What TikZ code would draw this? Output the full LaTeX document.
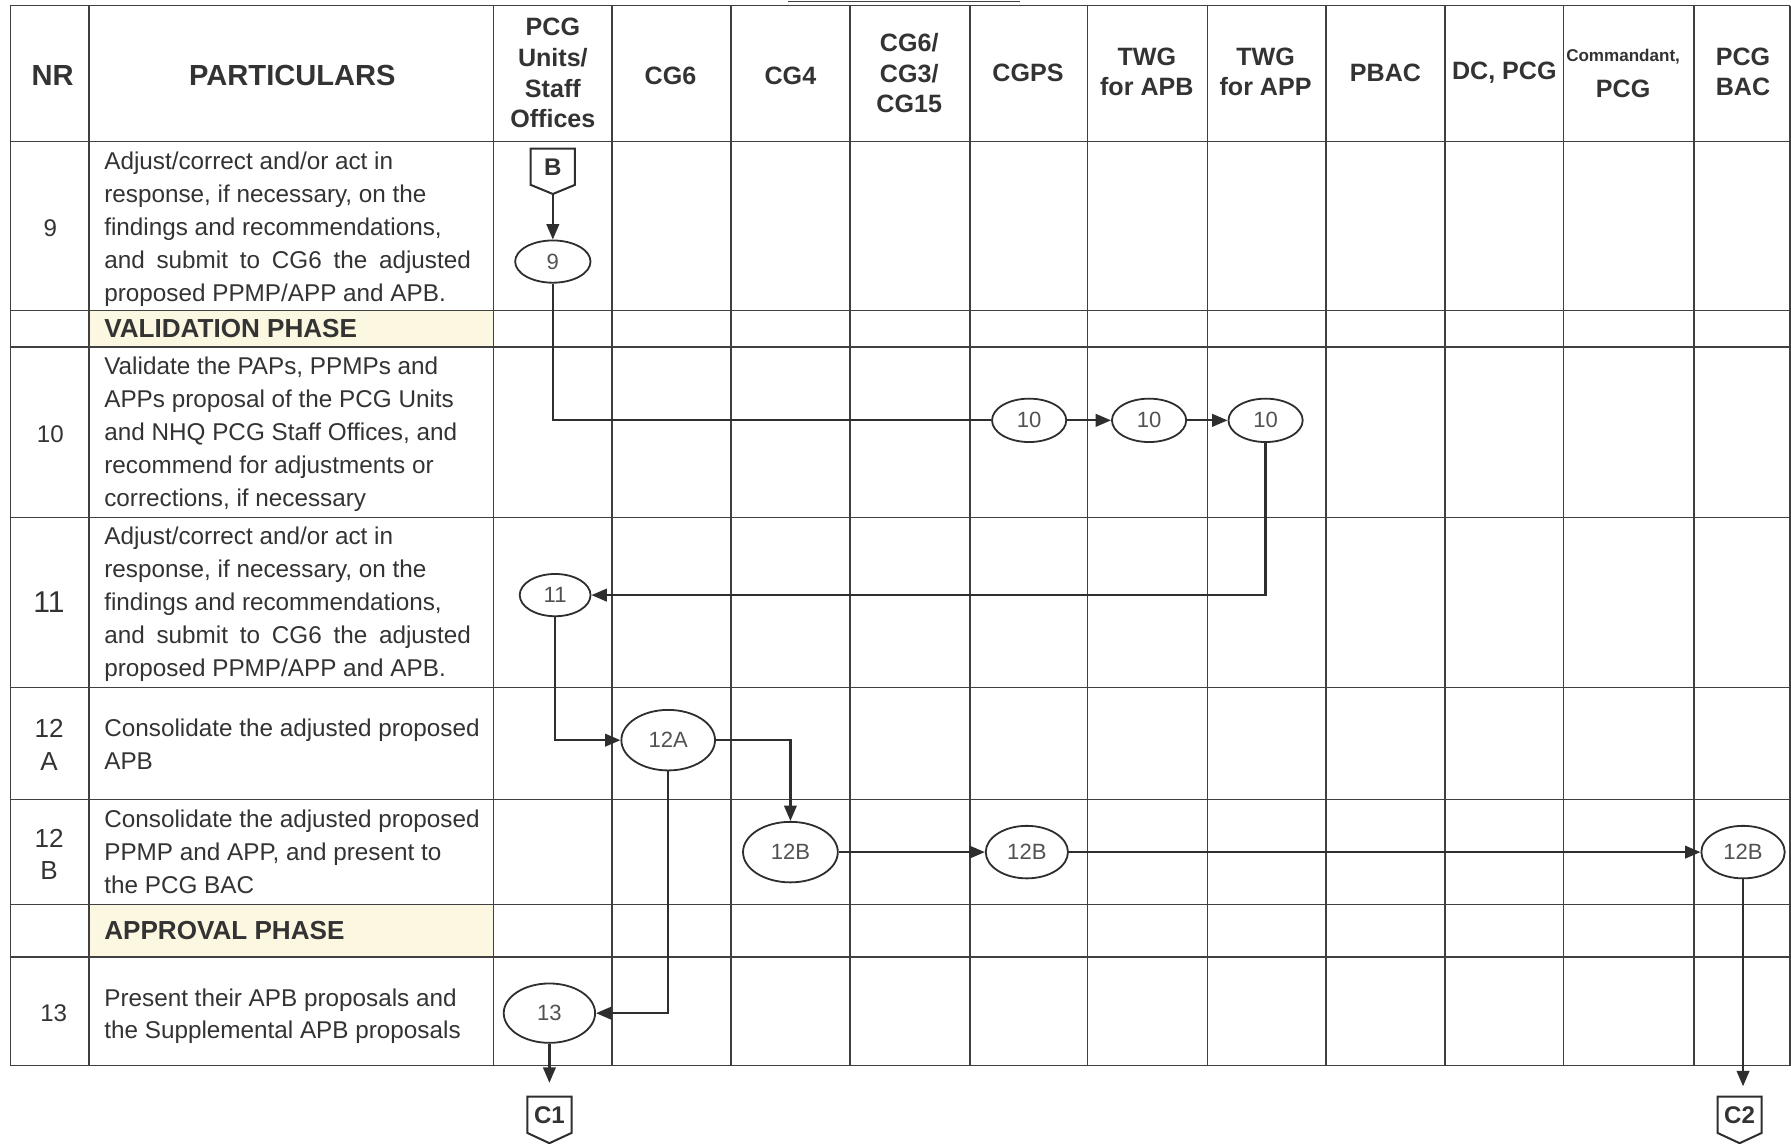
\documentclass[tikz,border=0pt]{standalone}
\usepackage{fontspec}
\setmainfont{Liberation Sans}
\usetikzlibrary{arrows.meta,calc,shapes.geometric}
\definecolor{gridc}{HTML}{404040}
\definecolor{linec}{HTML}{2E2E2E}
\definecolor{phasefill}{HTML}{FBF7E0}
\definecolor{txt}{HTML}{333333}
\begin{document}
\begin{tikzpicture}[x=0.02cm,y=-0.02cm,
  gridline/.style={draw=gridc,line width=0.75pt},
  flow/.style={draw=linec,line width=1.1pt},
  arr/.style={flow,-{Triangle[length=0.27cm,width=0.22cm]}},
  stepell/.style={ellipse,draw=linec,line width=0.9pt,inner sep=0pt,font=\fontsize{11}{13}\selectfont,text=txt!85},
  hdr/.style={font=\bfseries\fontsize{12.5}{15.3}\selectfont,align=center,text=txt,inner sep=0pt},
  hdrbig/.style={font=\bfseries\fontsize{14.5}{17}\selectfont,align=center,text=txt,inner sep=0pt},
  hdrsmall/.style={font=\bfseries\fontsize{8.5}{10}\selectfont,align=center,text=txt,inner sep=0pt},
  body/.style={font=\fontsize{12.1}{16.4}\selectfont,align=left,anchor=north west,inner sep=0pt,text=txt},
  nrtext/.style={font=\fontsize{12}{16.4}\selectfont,align=center,text=txt,inner sep=0pt},
  phase/.style={font=\bfseries\fontsize{13}{15}\selectfont,anchor=west,inner sep=0pt,text=txt},
  offp/.style={rectangle,draw=none,minimum width=0.76cm,minimum height=0.62cm,inner sep=0pt,font=\bfseries\fontsize{12}{14}\selectfont,text=txt},
  offline/.style={draw=linec,line width=1pt}
]
\useasboundingbox (0,0) rectangle (1568,1001);
% phase fills
\fill[phasefill] (78,272) rectangle (432,304);
\fill[phasefill] (78,792) rectangle (432,838);
% title underline (cut off)
\draw[draw=gridc,line width=0.6pt] (690,1) -- (893,1);
% grid
\foreach \xx in {9,78,432,536,640,744,849,952,1057,1161,1265,1369,1483,1567}
  \draw[gridline] (\xx,5) -- (\xx,933);
\foreach \yy in {5,124,272,304,453,602,700,792,838,933}
  \draw[gridline] (9,\yy) -- (1567,\yy);
% header
\node[hdrbig] (hNR) at (46,66) {NR};
\node[hdrbig] (hPart) at (256,66) {PARTICULARS};
\node[hdr] (hPCG) at (484,64) {PCG\\Units/\\Staff\\Offices};
\node[hdr] (hCG6) at (587,66) {CG6};
\node[hdr] (hCG4) at (692,66) {CG4};
\node[hdr] (hCG63) at (796,64) {CG6/\\CG3/\\CG15};
\node[hdr] (hCGPS) at (900,64) {CGPS};
\node[hdr] (hTWG1) at (1004,63) {TWG\\for APB};
\node[hdr] (hTWG2) at (1108,63) {TWG\\for APP};
\node[hdr] (hPBAC) at (1213,64) {PBAC};
\node[hdr] (hDC) at (1317,64) {DC, PCG};
\node[hdrsmall] (hCom1) at (1421,50) {Commandant,};
\node[hdr] (hCom2) at (1421,78) {PCG};
\node[hdr] (hBAC) at (1526,63) {PCG\\BAC};
% NR column
\node[nrtext] (r9) at (44,200) {9};
\node[nrtext] (r10) at (44,380) {10};
\node[nrtext,font=\fontsize{15}{17}\selectfont] (r11) at (43,527) {11};
\node[nrtext,font=\fontsize{13}{16.4}\selectfont] (r12a) at (43,652) {12\\A};
\node[nrtext,font=\fontsize{13}{16.4}\selectfont] (r12b) at (43,748) {12\\B};
\node[nrtext] (r13) at (47,887) {13};
% particulars
\node[body] (t9) at (91,133) {Adjust/correct and/or act in\\response, if necessary, on the\\findings and recommendations,\\\makebox[6.42cm][s]{and submit to CG6 the adjusted}\\proposed PPMP/APP and APB.};
\node[phase] (vp) at (91,288) {VALIDATION PHASE};
\node[body] (t10) at (91,312) {Validate the PAPs, PPMPs and\\APPs proposal of the PCG Units\\and NHQ PCG Staff Offices, and\\recommend for adjustments or\\corrections, if necessary};
\node[body] (t11) at (91,461) {Adjust/correct and/or act in\\response, if necessary, on the\\findings and recommendations,\\\makebox[6.42cm][s]{and submit to CG6 the adjusted}\\proposed PPMP/APP and APB.};
\node[body] (t12a) at (91,629) {Consolidate the adjusted proposed\\APB};
\node[body] (t12b) at (91,709) {Consolidate the adjusted proposed\\PPMP and APP, and present to\\the PCG BAC};
\node[phase] (ap) at (91,815) {APPROVAL PHASE};
\node[body] (t13) at (91,865) {Present their APB proposals and\\the Supplemental APB proposals};
% off-page connectors
\node[offp] (B) at (484,146) {\raisebox{-2pt}{B}};
\draw[offline] (B.north west) -- (B.north east) -- (B.south east) -- ($(B.south)+(0,8)$) -- (B.south west) -- cycle;
\node[offp] (C1) at (481,976) {C1};
\draw[offline] (C1.north west) -- (C1.north east) -- (C1.south east) -- ($(C1.south)+(0,9)$) -- (C1.south west) -- cycle;
\node[offp] (C2) at (1523,976) {C2};
\draw[offline] (C2.north west) -- (C2.north east) -- (C2.south east) -- ($(C2.south)+(0,9)$) -- (C2.south west) -- cycle;
\coordinate (c1in) at (481,948);
\coordinate (c2in) at (1526,951);
% steps
\node[stepell,minimum width=1.32cm,minimum height=0.74cm] (n9) at (484,229) {9};
\node[stepell,minimum width=1.3cm,minimum height=0.76cm] (n10a) at (901,368) {10};
\node[stepell,minimum width=1.3cm,minimum height=0.76cm] (n10b) at (1006,368) {10};
\node[stepell,minimum width=1.3cm,minimum height=0.76cm] (n10c) at (1108,368) {10};
\node[stepell,minimum width=1.24cm,minimum height=0.74cm] (n11) at (486,521) {11};
\node[stepell,minimum width=1.64cm,minimum height=1.06cm] (n12A) at (585,648) {12A};
\node[stepell,minimum width=1.66cm,minimum height=1.06cm] (n12Ba) at (692,746) {12B};
\node[stepell,minimum width=1.44cm,minimum height=0.92cm] (n12Bb) at (899,746) {12B};
\node[stepell,minimum width=1.46cm,minimum height=0.92cm] (n12Bc) at (1526,746) {12B};
\node[stepell,minimum width=1.6cm,minimum height=1.04cm] (n13) at (481,887) {13};
% connectors
\draw[arr] ($(B.south)+(0,8)$) -- (n9.north);
\draw[flow] (n9.south) |- (n10a.west);
\draw[arr] (n10a) -- (n10b);
\draw[arr] (n10b) -- (n10c);
\draw[arr] (n10c.south) |- (n11.east);
\draw[arr] (n11.south) |- (n12A.west);
\draw[arr] (n12A.east) -| (n12Ba.north);
\draw[arr] (n12Ba.east) -- (n12Bb.west);
\draw[arr] (n12Bb.east) -- (n12Bc.west);
\draw[arr] (n12A.south) |- (n13.east);
\draw[arr] (n13.south) -- (c1in);
\draw[arr] (n12Bc.south) -- (c2in);
\end{tikzpicture}
\end{document}
